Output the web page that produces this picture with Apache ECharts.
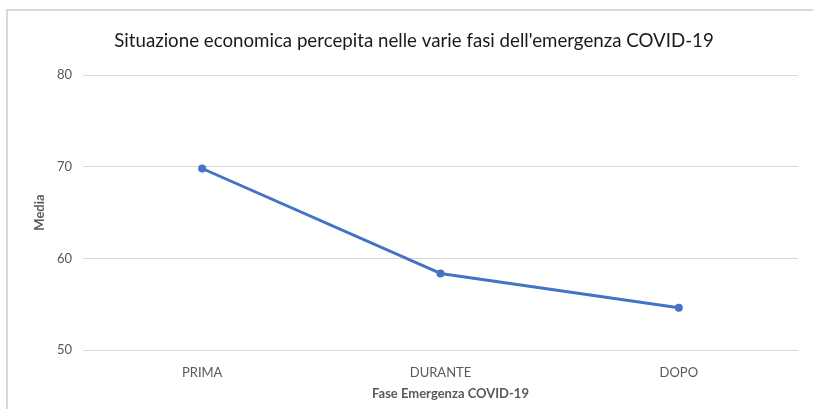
<!DOCTYPE html>
<html>
<head>
<meta charset="utf-8">
<script src="https://cdn.jsdelivr.net/npm/echarts@6/dist/echarts.min.js"></script>
<style>html,body{margin:0;padding:0;background:#fff}#c{width:813px;height:409px}</style>
</head>
<body>
<div id="c"></div>
<script>
const titleText = "Situazione economica percepita nelle varie fasi dell'emergenza COVID-19";
const categories = ["PRIMA", "DURANTE", "DOPO"];
const mediaValues = [69.8, 58.35, 54.6];
const yTicks = { min: 50, max: 80, interval: 10 };
const xAxisName = "Fase Emergenza COVID-19";
const yAxisName = "Media";

const font = "Lato, 'Open Sans', sans-serif";
const chart = echarts.init(document.getElementById('c'));
chart.setOption({
  animation: false,
  backgroundColor: '#fff',
  title: {
    text: titleText,
    left: 409, top: 26, textAlign: 'center',
    textStyle: { fontFamily: font, fontSize: 18.7, fontWeight: 'normal', color: '#1a1a1a' }
  },
  graphic: [{
    type: 'rect', silent: true, z: -1,
    shape: { x: 7, y: 10, width: 900, height: 500 },
    style: { fill: 'none', stroke: '#d9d9d9', lineWidth: 2 }
  }],
  grid: { left: 83, right: 15, top: 75, bottom: 59 },
  xAxis: {
    type: 'category', data: categories, boundaryGap: true,
    axisLine: { show: false }, axisTick: { show: false },
    axisLabel: { fontFamily: font, fontSize: 13, color: '#595959', margin: 16 },
    name: xAxisName, nameLocation: 'middle', nameGap: 37,
    nameTextStyle: { fontFamily: font, fontSize: 13, fontWeight: 'bold', color: '#595959', padding: [0, 0, 0, 20] }
  },
  yAxis: {
    type: 'value', min: yTicks.min, max: yTicks.max, interval: yTicks.interval,
    axisLine: { show: false }, axisTick: { show: false },
    axisLabel: { fontFamily: font, fontSize: 13, color: '#595959', margin: 11 },
    splitLine: { lineStyle: { color: '#d9d9d9', width: 1 } },
    name: yAxisName, nameLocation: 'middle', nameGap: 37, nameRotate: 90,
    nameTextStyle: { fontFamily: font, fontSize: 13, fontWeight: 'bold', color: '#595959' }
  },
  series: [{
    type: 'line', data: mediaValues,
    symbol: 'circle', symbolSize: 8,
    lineStyle: { color: '#4472C4', width: 3 },
    itemStyle: { color: '#4472C4' }
  }]
});
</script>
</body>
</html>
